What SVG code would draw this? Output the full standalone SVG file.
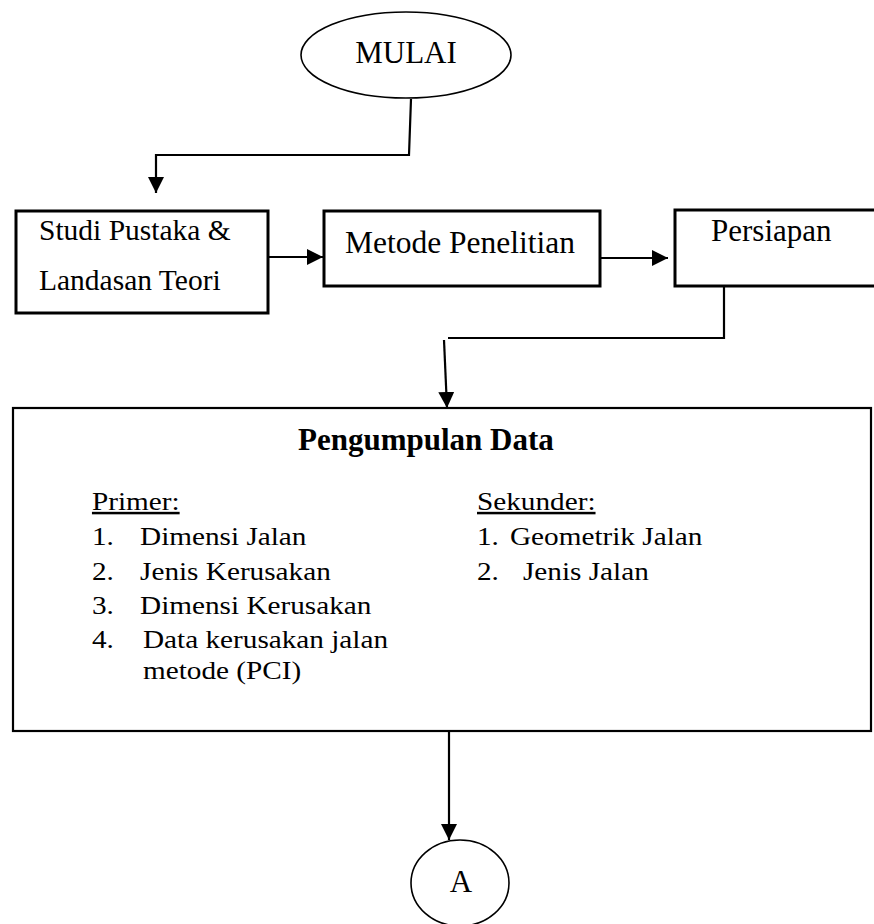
<svg xmlns="http://www.w3.org/2000/svg" width="874" height="924" viewBox="0 0 874 924">
<style>
.t{font-family:"Liberation Serif","Times New Roman",serif;fill:#000}
.box{fill:#fff;stroke:#000;stroke-width:3}
.oval{fill:#fff;stroke:#000;stroke-width:1.6}
.con{fill:none;stroke:#000;stroke-width:2.2}
.li{font-size:25px;white-space:pre}
</style>
<defs>
<marker id="ah" markerUnits="userSpaceOnUse" markerWidth="18" markerHeight="18" refX="16" refY="8" orient="auto">
<polygon points="0,0 16,8 0,16" fill="#000"/>
</marker>
</defs>
<rect width="874" height="924" fill="#fff"/>
<g id="connectors">
<path class="con" d="M411,99 L409,155 L156,155 L156,193" marker-end="url(#ah)"/>
<path class="con" d="M268,257 L323,257" marker-end="url(#ah)"/>
<path class="con" d="M600,258 L668,258" marker-end="url(#ah)"/>
<path class="con" d="M724,286 L724,338 L448,338"/>
<path class="con" d="M444,340 L447,408" marker-end="url(#ah)"/>
<path class="con" d="M449,731 L449,840" marker-end="url(#ah)"/>
</g>
<g id="mulai">
<ellipse class="oval" cx="406" cy="55" rx="105" ry="43"/>
<text class="t" x="406" y="63" font-size="31" text-anchor="middle">MULAI</text>
</g>
<g id="studi">
<rect class="box" x="16" y="211" width="252" height="102"/>
<text class="t" x="39" y="240" font-size="29.5">Studi Pustaka &amp;</text>
<text class="t" x="39" y="290" font-size="29.5">Landasan Teori</text>
</g>
<g id="metode">
<rect class="box" x="324" y="211" width="276" height="75"/>
<text class="t" x="345" y="253" font-size="31.5">Metode Penelitian</text>
</g>
<g id="persiapan">
<rect class="box" x="675" y="210" width="210" height="76"/>
<text class="t" x="711" y="241" font-size="31">Persiapan</text>
</g>
<g id="pengumpulan">
<rect class="box" x="13" y="408" width="858" height="323" style="stroke-width:2.2"/>
<text class="t" x="298" y="450" font-size="31" font-weight="bold">Pengumpulan Data</text>
<g transform="scale(1.17,1)" class="t li">
<text x="78.6" y="510" text-decoration="underline">Primer:</text>
<text x="78.6" y="545">1.</text><text x="119.7" y="545">Dimensi Jalan</text>
<text x="78.6" y="580">2.</text><text x="119.7" y="580">Jenis Kerusakan</text>
<text x="78.6" y="614">3.</text><text x="119.7" y="614">Dimensi Kerusakan</text>
<text x="78.6" y="648">4.</text><text x="122.2" y="648">Data kerusakan  jalan</text>
<text x="122.2" y="679">metode (PCI)</text>
<text x="407.7" y="510" text-decoration="underline">Sekunder:</text>
<text x="407.7" y="545">1.</text><text x="435.9" y="545">Geometrik Jalan</text>
<text x="407.7" y="580">2.</text><text x="447" y="580">Jenis  Jalan</text>
</g>
</g>
<g id="a">
<ellipse class="oval" cx="460" cy="883" rx="49" ry="43"/>
<text class="t" x="461" y="892" font-size="31" text-anchor="middle">A</text>
</g>
</svg>
